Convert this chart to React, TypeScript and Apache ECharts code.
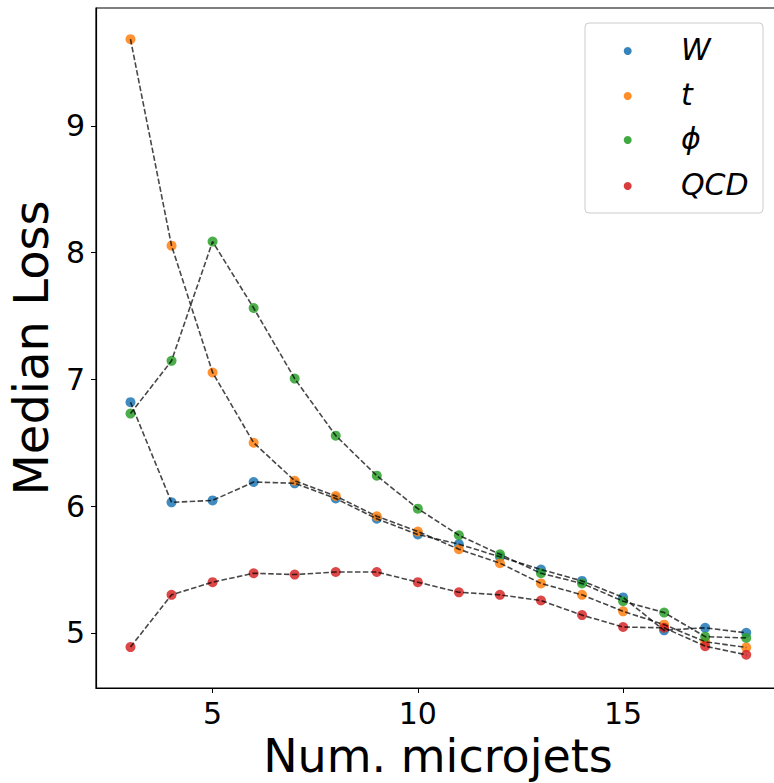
import React, { useEffect, useRef } from "react";
import * as echarts from "echarts";

const microjets = [3, 4, 5, 6, 7, 8, 9, 10, 11, 12, 13, 14, 15, 16, 17, 18];
const lossW = [6.82, 6.03, 6.045, 6.19, 6.18, 6.06, 5.9, 5.776, 5.7, 5.6, 5.5, 5.41, 5.28, 5.02, 5.04, 5.0];
const lossT = [9.684, 8.055, 7.054, 6.5, 6.2, 6.08, 5.92, 5.8, 5.66, 5.55, 5.39, 5.3, 5.17, 5.065, 4.93, 4.885];
const lossPhi = [6.73, 7.146, 8.087, 7.563, 7.006, 6.556, 6.24, 5.98, 5.77, 5.62, 5.47, 5.39, 5.25, 5.16, 4.97, 4.96];
const lossQCD = [4.888, 5.3, 5.4, 5.47, 5.46, 5.48, 5.48, 5.4, 5.32, 5.3, 5.255, 5.14, 5.046, 5.04, 4.895, 4.827];

const seriesNames = ["W", "t", "ϕ", "QCD"];
const seriesColors = ["#1f77b4", "#ff7f0e", "#2ca02c", "#d62728"];
const xTicks = [5, 10, 15];
const yTicks = [5, 6, 7, 8, 9];

const FONT = "DejaVu Sans";

export default function App() {
  const ref = useRef<HTMLDivElement>(null);
  useEffect(() => {
    if (!ref.current) return;
    const chart = echarts.init(ref.current, undefined, { renderer: "svg" });
    const all = [lossW, lossT, lossPhi, lossQCD];
    const pairs = (arr: number[]) => microjets.map((x, i) => [x, arr[i]]);

    const scatterSeries = all.map((arr, i) => ({
      type: "scatter",
      name: seriesNames[i],
      data: pairs(arr),
      symbol: "circle",
      symbolSize: 10,
      itemStyle: { color: seriesColors[i], opacity: 0.85 },
      z: 2,
    }));
    const lineSeries = all.map((arr, i) => ({
      type: "line",
      name: seriesNames[i] + "_line",
      data: pairs(arr),
      showSymbol: false,
      symbol: "none",
      lineStyle: { color: "#000", opacity: 0.72, width: 1.6, type: [5.5, 2.4] },
      z: 3,
    }));

    const legendTop = 23;
    const rowY = [51, 96, 140, 186];
    const legendGraphics: any[] = [
      {
        type: "rect",
        shape: { x: 585, y: legendTop, width: 178, height: 190, r: 4 },
        style: { fill: "rgba(255,255,255,0.85)", stroke: "#cccccc", lineWidth: 1 },
        z: 10,
      },
    ];
    seriesNames.forEach((n, i) => {
      legendGraphics.push({
        type: "circle",
        shape: { cx: 627.7, cy: rowY[i], r: 4 },
        style: { fill: seriesColors[i], opacity: 0.9 },
        z: 11,
      });
      legendGraphics.push({
        type: "text",
        x: 681,
        y: rowY[i] - 2,
        style: {
          text: n,
          fontFamily: FONT,
          fontStyle: "italic",
          fontSize: 30,
          fill: "#000",
          align: "left",
          verticalAlign: "middle",
        },
        z: 11,
      });
    });

    chart.setOption({
      animation: false,
      backgroundColor: "#fff",
      grid: {
        left: 96,
        top: 8,
        width: 700,
        height: 680,
        show: true,
        borderColor: "#000",
        borderWidth: 1.2,
        backgroundColor: "transparent",
        outerBoundsMode: "none",
        containLabel: false,
      },
      xAxis: {
        type: "value",
        min: 2.16,
        max: 2.16 + 700 / 41.05,
        name: "Num. microjets",
        nameLocation: "middle",
        nameGap: 42,
        nameTextStyle: { fontFamily: FONT, fontSize: 46, color: "#000", padding: [0, 16, 0, 0] },
        splitLine: { show: false },
        axisLine: { show: true, onZero: false, lineStyle: { color: "#000", width: 1.2 } },
        axisTick: { show: true, length: 5, customValues: xTicks, lineStyle: { color: "#000", width: 1 } },
        axisLabel: {
          customValues: xTicks,
          margin: 10,
          fontFamily: FONT,
          fontSize: 30,
          color: "#000",
        },
      },
      yAxis: {
        type: "value",
        min: 4.565,
        max: 9.93,
        name: "Median Loss",
        nameLocation: "middle",
        nameRotate: 90,
        nameGap: 36,
        nameTextStyle: { fontFamily: FONT, fontSize: 48, color: "#000" },
        splitLine: { show: false },
        axisLine: { show: true, onZero: false, lineStyle: { color: "#000", width: 1.2 } },
        axisTick: { show: true, length: 5, customValues: yTicks, lineStyle: { color: "#000", width: 1 } },
        axisLabel: {
          customValues: yTicks,
          margin: 11,
          fontFamily: FONT,
          fontSize: 30,
          color: "#000",
        },
      },
      graphic: legendGraphics,
      series: [...scatterSeries, ...lineSeries],
    } as any);
    return () => chart.dispose();
  }, []);
  return (
    <div
      ref={ref}
      style={{ position: "absolute", left: 0, top: 0, width: 774, height: 783 }}
    />
  );
}
